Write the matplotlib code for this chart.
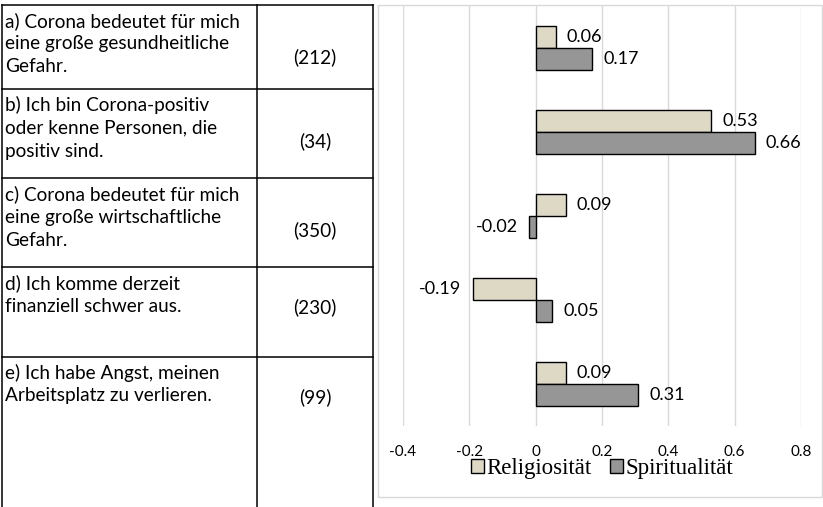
import numpy as np
import matplotlib.pyplot as plt
from matplotlib.patches import Rectangle

# Daten
items = [
    ['a) Corona bedeutet für mich', 'eine große gesundheitliche', 'Gefahr.'],
    ['b) Ich bin Corona-positiv', 'oder kenne Personen, die', 'positiv sind.'],
    ['c) Corona bedeutet für mich', 'eine große wirtschaftliche', 'Gefahr.'],
    ['d) Ich komme derzeit', 'finanziell schwer aus.'],
    ['e) Ich habe Angst, meinen', 'Arbeitsplatz zu verlieren.'],
]
counts = [212, 34, 350, 230, 99]
religiositaet = [0.06, 0.53, 0.09, -0.19, 0.09]
spiritualitaet = [0.17, 0.66, -0.02, 0.05, 0.31]
xticks = [-0.4, -0.2, 0, 0.2, 0.4, 0.6, 0.8]
xtick_labels = ['-0.4', '-0.2', '0', '0.2', '0.4', '0.6', '0.8']
series_names = ['Religiosität', 'Spiritualität']

sans = ['Lato', 'DejaVu Sans']
serif = ['Liberation Serif', 'DejaVu Serif']

W, H = 823, 507
fig = plt.figure(figsize=(W / 100, H / 100), dpi=100)

# Tabelle links (Pixelkoordinaten)
ax0 = fig.add_axes([0, 0, 1, 1])
ax0.set_xlim(0, W)
ax0.set_ylim(H, 0)
ax0.axis('off')

row_tops = [5, 89, 178, 267, 357]
x_left, x_mid, x_right = 2, 257, 373
for x in (x_left, x_mid, x_right):
    ax0.plot([x, x], [5, H], color='black', lw=1.1)
for y in row_tops:
    ax0.plot([x_left, x_right], [y, y], color='black', lw=1.1)

line_h = 23
for top, lines, n in zip(row_tops, items, counts):
    for k, s in enumerate(lines):
        ax0.text(5, top + 16 + k * line_h, s, fontsize=13.7, family=sans,
                 va='center', ha='left')
    yc = top + 16 + (len(lines) - 1) * line_h / 2 + 13
    ax0.text((x_mid + x_right) / 2, yc, '(%d)' % n, fontsize=13.7,
             family=sans, va='center', ha='center')

# Rahmen des Diagramms
ax0.add_patch(Rectangle((378, 5), 444, 492, fill=False, edgecolor='#D9D9D9', lw=1))

# Balkendiagramm
ax = fig.add_axes([403 / W, (H - 426) / H, 398 / W, 420 / H])
y = np.arange(len(counts))
h = 0.26
b1 = ax.barh(y - h / 2, religiositaet, height=h, color='#DDD9C4',
             edgecolor='black', lw=1, label=series_names[0], zorder=3)
b2 = ax.barh(y + h / 2, spiritualitaet, height=h, color='#969696',
             edgecolor='black', lw=1, label=series_names[1], zorder=3)

for bars, vals in ((b1, religiositaet), (b2, spiritualitaet)):
    for bar, v in zip(bars, vals):
        yc = bar.get_y() + bar.get_height() / 2
        off = 8 if v >= 0 else -8
        ax.annotate('%.2f' % v, (v, yc), xytext=(off, 0), textcoords='offset points',
                    ha='left' if v >= 0 else 'right', va='center',
                    fontsize=13, family=sans)

ax.set_xlim(-0.4, 0.8)
ax.set_ylim(len(counts) - 0.5, -0.5)
ax.set_xticks(xticks)
ax.set_xticklabels(xtick_labels, fontsize=11, family=sans)
ax.set_yticks([])
ax.tick_params(axis='x', length=0, pad=14)
ax.grid(axis='x', color='#D9D9D9', lw=1, zorder=0)
for sp in ax.spines.values():
    sp.set_visible(False)
ax.patch.set_alpha(0)

ax.legend(loc='center', bbox_to_anchor=(0.5, -0.102), ncol=2, frameon=False,
          prop={'family': serif, 'size': 16.5}, handlelength=0.57,
          handleheight=0.57, handletextpad=0.12, columnspacing=0.8,
          borderaxespad=0)

plt.savefig('out.png', dpi=100)
